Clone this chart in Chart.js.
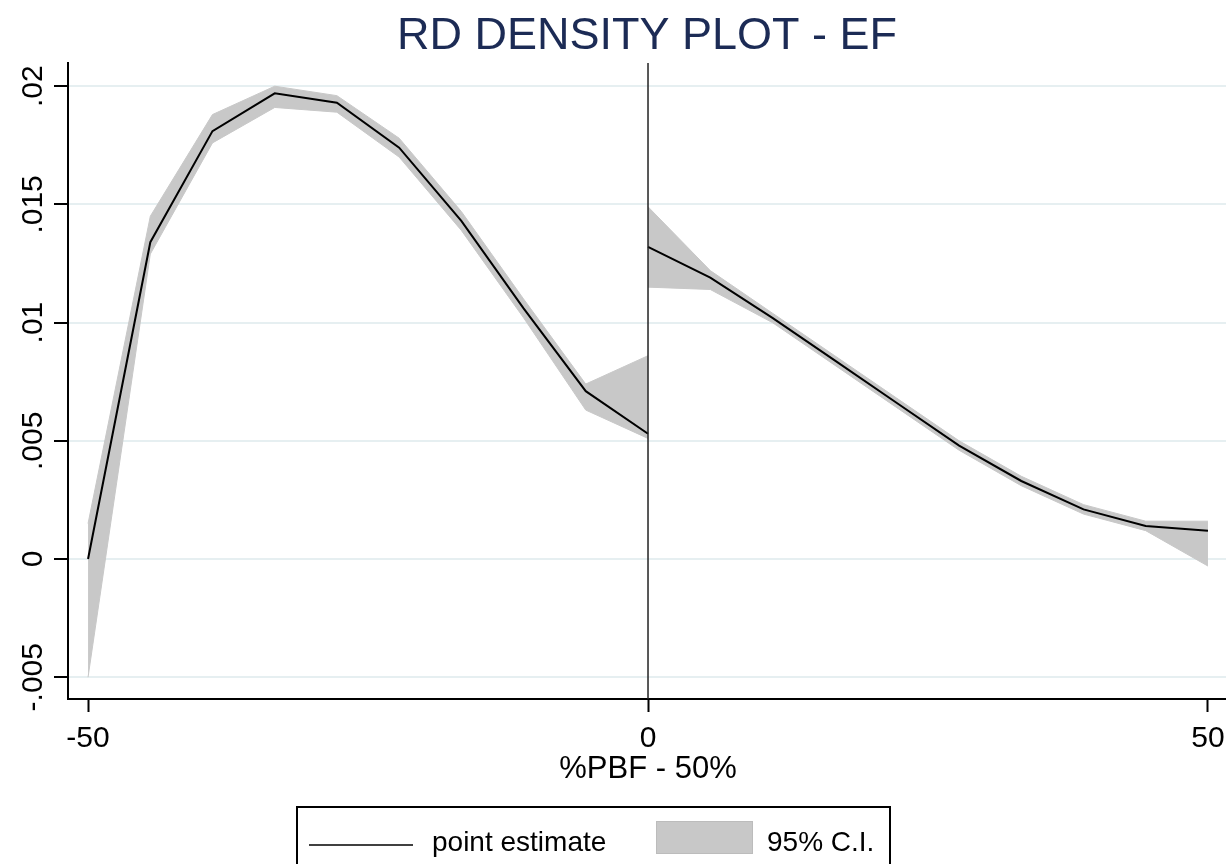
<!DOCTYPE html>
<html>
<head>
<meta charset="utf-8">
<title>RD Density Plot - EF</title>
<script src="https://cdn.jsdelivr.net/npm/chart.js@4.4.1/dist/chart.umd.min.js"></script>
<style>
  html, body { margin: 0; padding: 0; background: #fff; }
  #wrap { position: relative; width: 1226px; height: 864px; }
</style>
</head>
<body>
<div id="wrap"><canvas id="chart-rd"></canvas></div>
<script>
// --- data ---
const leftX = [-50, -44.44, -38.89, -33.33, -27.78, -22.22, -16.67, -11.11, -5.56, 0];
const leftEst = [0.0000, 0.0134, 0.0181, 0.0197, 0.0193, 0.0174, 0.0143, 0.0106, 0.0071, 0.0053];
const leftHi = [0.0015, 0.0145, 0.0188, 0.0200, 0.0196, 0.0178, 0.0147, 0.0110, 0.0074, 0.0086];
const leftLo = [-0.0050, 0.0129, 0.0176, 0.0191, 0.0189, 0.0170, 0.0139, 0.0102, 0.0063, 0.0051];

const rightX = [0, 5.56, 11.11, 16.67, 22.22, 27.78, 33.33, 38.89, 44.44, 50];
const rightEst = [0.0132, 0.0119, 0.0102, 0.0084, 0.0066, 0.0048, 0.0033, 0.0021, 0.0014, 0.0012];
const rightHi = [0.0149, 0.0122, 0.0104, 0.0086, 0.0068, 0.0050, 0.0035, 0.0023, 0.0016, 0.0016];
const rightLo = [0.0115, 0.0114, 0.0100, 0.0082, 0.0064, 0.0046, 0.0031, 0.0019, 0.0012, -0.0003];

const xTicks = [-50, 0, 50];
const xTickLabels = ['-50', '0', '50'];
const yTicks = [-0.005, 0, 0.005, 0.01, 0.015, 0.02];
const yTickLabels = ['-.005', '0', '.005', '.01', '.015', '.02'];

const titleText = 'RD DENSITY PLOT - EF';
const xTitle = '%PBF - 50%';
const legendLabels = ['point estimate', '95% C.I.'];

const FONT = '"Liberation Sans", Arial, Helvetica, sans-serif';
const BAND = '#c8c8c8';

const pts = (xs, ys) => xs.map((x, i) => ({ x, y: ys[i] }));

function bandPair(xs, hi, lo) {
  return [
    { data: pts(xs, hi), borderWidth: 1, borderColor: BAND, backgroundColor: BAND, fill: '+1', pointRadius: 0, order: 2 },
    { data: pts(xs, lo), borderWidth: 1, borderColor: BAND, backgroundColor: BAND, fill: false, pointRadius: 0, order: 2 }
  ];
}

// extra drawing: rotated y labels, cutoff line, titles, boxed legend
const stataDecor = {
  id: 'stataDecor',
  afterDatasetsDraw(chart) {
    const { ctx, chartArea, scales } = chart;
    const x0 = scales.x.getPixelForValue(0);
    ctx.save();
    ctx.strokeStyle = '#222';
    ctx.lineWidth = 1.5;
    ctx.beginPath();
    ctx.moveTo(x0, chartArea.top);
    ctx.lineTo(x0, chartArea.bottom);
    ctx.stroke();
    ctx.restore();
  },
  afterDraw(chart) {
    const { ctx, chartArea, scales } = chart;
    ctx.save();

    // y tick labels, rotated like Stata
    ctx.fillStyle = '#000';
    ctx.font = '30px ' + FONT;
    ctx.textAlign = 'center';
    ctx.textBaseline = 'alphabetic';
    yTicks.forEach((v, i) => {
      const y = scales.y.getPixelForValue(v);
      ctx.save();
      ctx.translate(42, y);
      ctx.rotate(-Math.PI / 2);
      ctx.fillText(yTickLabels[i], 0, 0);
      ctx.restore();
    });

    // title
    const cx = (chartArea.left + chartArea.right) / 2;
    ctx.fillStyle = '#1c2b55';
    ctx.font = '45px ' + FONT;
    ctx.textBaseline = 'middle';
    ctx.fillText(titleText, cx, 37);

    // x axis title
    ctx.fillStyle = '#000';
    ctx.font = '31px ' + FONT;
    ctx.fillText(xTitle, scales.x.getPixelForValue(0), 769);

    // legend box
    ctx.strokeStyle = '#000';
    ctx.lineWidth = 2;
    ctx.strokeRect(297, 807, 593, 60);
    ctx.lineWidth = 1.5;
    ctx.beginPath();
    ctx.moveTo(309, 845);
    ctx.lineTo(413, 845);
    ctx.stroke();
    ctx.fillStyle = BAND;
    ctx.fillRect(656, 821, 97, 33);
    ctx.strokeStyle = '#bcbcbc';
    ctx.lineWidth = 1;
    ctx.strokeRect(656.5, 821.5, 96, 32);
    ctx.fillStyle = '#000';
    ctx.font = '28px ' + FONT;
    ctx.textAlign = 'left';
    ctx.fillText(legendLabels[0], 432, 843);
    ctx.fillText(legendLabels[1], 767, 843);

    ctx.restore();
  }
};

new Chart(document.getElementById('chart-rd'), {
  type: 'line',
  data: {
    datasets: [
      { data: pts(leftX, leftEst), borderColor: '#000', borderWidth: 2, pointRadius: 0, fill: false, order: 0 },
      { data: pts(rightX, rightEst), borderColor: '#000', borderWidth: 2, pointRadius: 0, fill: false, order: 0 },
      ...bandPair(leftX, leftHi, leftLo),
      ...bandPair(rightX, rightHi, rightLo)
    ]
  },
  options: {
    responsive: true,
    maintainAspectRatio: false,
    animation: false,
    layout: { padding: { top: 63, right: 0, bottom: 0, left: 0 } },
    plugins: { legend: { display: false }, tooltip: { enabled: false } },
    scales: {
      x: {
        type: 'linear',
        min: -51.79,
        max: 51.61,
        afterFit: (s) => { s.height = 165; s.paddingLeft = 0; s.paddingRight = 0; },
        afterBuildTicks: (s) => { s.ticks = xTicks.map(v => ({ value: v })); },
        ticks: {
          autoSkip: false,
          maxRotation: 0,
          padding: 9,
          color: '#000',
          font: { family: FONT, size: 30 },
          callback: (v) => xTickLabels[xTicks.indexOf(v)]
        },
        grid: { drawOnChartArea: false, drawTicks: true, tickLength: 13, tickColor: '#000', tickWidth: 2 },
        border: { display: true, color: '#000', width: 2 }
      },
      y: {
        min: -0.005922,
        max: 0.020981,
        afterFit: (s) => { s.width = 68; s.paddingTop = 0; s.paddingBottom = 0; },
        afterBuildTicks: (s) => { s.ticks = yTicks.map(v => ({ value: v })); },
        ticks: { display: false },
        grid: { color: '#e6eff1', lineWidth: 2, drawTicks: true, tickLength: 14, tickColor: '#000', tickWidth: 2 },
        border: { display: true, color: '#000', width: 2 }
      }
    }
  },
  plugins: [stataDecor]
});
</script>
</body>
</html>
